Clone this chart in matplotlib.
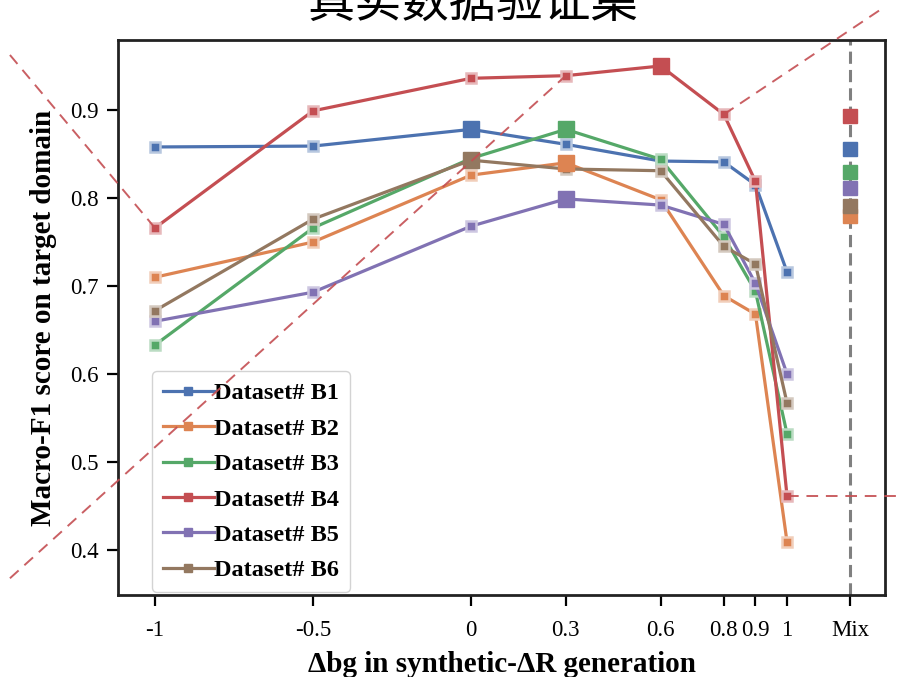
import numpy as np
import matplotlib
matplotlib.use("Agg")
import matplotlib.pyplot as plt
from matplotlib.lines import Line2D
from matplotlib.colors import to_rgb

# macro-F1 on the real validation set for each dataset vs. the Δbg setting
x_values = [-1, -0.5, 0, 0.3, 0.6, 0.8, 0.9, 1]
x_tick_labels = ["-1", "-0.5", "0", "0.3", "0.6", "0.8", "0.9", "1", "Mix"]
mix_pos = 1.2

series_names = ["Dataset# B1", "Dataset# B2", "Dataset# B3",
                "Dataset# B4", "Dataset# B5", "Dataset# B6"]
b1 = [0.858, 0.859, 0.878, 0.861, 0.842, 0.841, 0.815, 0.716]
b2 = [0.710, 0.750, 0.826, 0.840, 0.798, 0.689, 0.668, 0.409]
b3 = [0.633, 0.766, 0.845, 0.878, 0.844, 0.756, 0.694, 0.532]
b4 = [0.766, 0.899, 0.936, 0.939, 0.950, 0.895, 0.819, 0.461]
b5 = [0.660, 0.693, 0.768, 0.799, 0.792, 0.770, 0.703, 0.600]
b6 = [0.672, 0.776, 0.843, 0.833, 0.831, 0.745, 0.725, 0.567]
mix_scores = [0.856, 0.780, 0.830, 0.893, 0.811, 0.791]

colors = ["#4C72B0", "#DD8452", "#55A868", "#C44E52", "#8172B3", "#937860"]
all_series = [b1, b2, b3, b4, b5, b6]

plt.rcParams["font.family"] = ["Liberation Serif", "DejaVu Serif"]


def tint(c, amount):
    r, g, b = to_rgb(c)
    return (r + (1 - r) * amount, g + (1 - g) * amount, b + (1 - b) * amount)


fig = plt.figure(figsize=(9.03, 6.77), dpi=100)
ax = fig.add_axes([0.1307, 0.1211, 0.8494, 0.8198])

for vals, c in zip(all_series, colors):
    ax.plot(x_values, vals, color=c, lw=2.3, marker="s", ms=7,
            mfc=c, mec=tint(c, 0.6), mew=1.8, zorder=3)
    # best setting of each dataset gets a larger marker
    k = int(np.argmax(vals))
    ax.plot(x_values[k], vals[k], marker="s", ms=12, color=c,
            mec=c, ls="none", zorder=4)

# scores when all settings are mixed
mix_order = [1, 5, 4, 2, 0, 3]
for i in mix_order:
    ax.plot(mix_pos, mix_scores[i], marker="s", ms=10, color=colors[i],
            mec=colors[i], ls="none", zorder=4)

ax.axvline(mix_pos, color="#808080", lw=2.2, ls=(0, (4, 2)), zorder=2)

# red guide lines around the B4 curve
red = "#C44E52"
guides = [
    ([-1.459, -1.0], [0.9625, b4[0]]),
    ([-1.459, 0.3], [0.368, b4[3]]),
    ([0.8, 1.294], [b4[5], 1.0136]),
    ([1.0, 1.40], [b4[7], b4[7]]),
]
for gx, gy in guides:
    ax.plot(gx, gy, color=red, lw=1.4, ls=(0, (6, 4)), alpha=0.9,
            clip_on=False, zorder=6)

ax.set_xlim(-1.117, 1.31)
ax.set_ylim(0.349, 0.9795)
ax.set_xticks(x_values + [mix_pos])
ax.set_xticklabels(x_tick_labels)
ax.set_yticks([0.4, 0.5, 0.6, 0.7, 0.8, 0.9])
ax.set_yticklabels(["0.4", "0.5", "0.6", "0.7", "0.8", "0.9"])
ax.tick_params(axis="both", direction="out", length=8, width=1.6,
               labelsize=16.5, pad=6, color="black")
ax.tick_params(axis="x", pad=10)
for s in ax.spines.values():
    s.set_linewidth(2)
    s.set_color("#222222")

ax.set_xlabel("Δbg in synthetic-ΔR generation", fontsize=21,
              fontweight="bold", labelpad=7)
ax.set_ylabel("Macro-F1 score on target domain", fontsize=21,
              fontweight="bold", labelpad=9)

handles = [Line2D([], [], color=c, lw=2.3, marker="s", ms=6, mfc=c, mec=c)
           for c in colors]
leg = ax.legend(handles, series_names, loc="lower left",
                bbox_to_anchor=(0.044, 0.005), borderaxespad=0,
                prop={"weight": "bold", "size": 17.5}, handlelength=2.1,
                handletextpad=0.0, labelspacing=0.55, frameon=True,
                fancybox=True, edgecolor="#cccccc", framealpha=0.85,
                borderpad=0.45)
leg.set_zorder(5)

fig.text(0.523, 0.995, "真实数据验证集", fontsize=34, ha="center", va="center",
         family=["Noto Sans CJK SC", "DejaVu Sans"])

fig.savefig("out.png", dpi=100)
